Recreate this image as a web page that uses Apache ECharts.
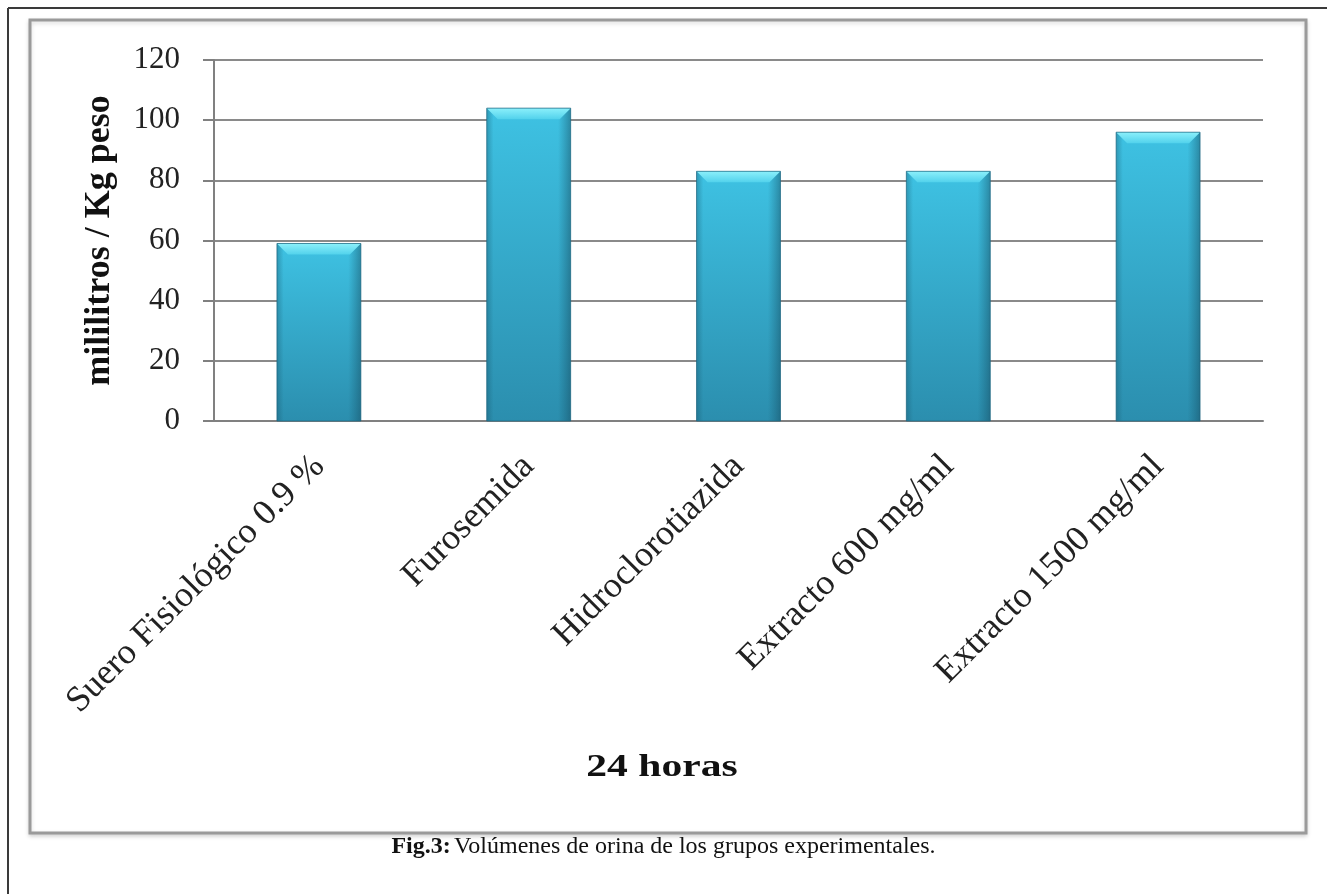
<!DOCTYPE html>
<html>
<head>
<meta charset="utf-8">
<script src="https://cdn.jsdelivr.net/npm/echarts@6/dist/echarts.min.js"></script>
<style>
  html, body { margin: 0; padding: 0; background: #fff; }
  #chart { width: 1327px; height: 894px; }
</style>
</head>
<body>
<div id="chart"></div>
<script>
// Urine volume after 24 h per experimental group (mL / kg body weight)
const categories = [
  'Suero Fisiológico 0.9 %',
  'Furosemida',
  'Hidroclorotiazida',
  'Extracto 600 mg/ml',
  'Extracto 1500 mg/ml'
];
const volumes = [59, 104, 83, 83, 96];
const yTicks = { min: 0, max: 120, interval: 20 };
const yAxisTitle = 'mililitros / Kg peso';
const xAxisTitle = '24 horas';

const serif = '"Liberation Serif", "Times New Roman", serif';
const BAR_RATIO = 0.4;
const BEVEL = 11;

// Bevelled column: gradient body, shaded sides, bright top facet
function renderBevelBar(params, api) {
  const idx = api.value(0);
  const top = api.coord([idx, api.value(1)]);
  const base = api.coord([idx, 0]);
  const w = api.size([1, 0])[0] * BAR_RATIO;
  const l = top[0] - w / 2, r = top[0] + w / 2;
  const t = top[1], b = base[1];
  const bv = Math.min(BEVEL, (b - t) / 2);
  return {
    type: 'group',
    children: [
      { type: 'rect', shape: { x: l, y: t, width: w, height: b - t },
        style: { fill: new echarts.graphic.LinearGradient(0, 0, 0, 1, [
          { offset: 0, color: '#3ec2e3' }, { offset: 1, color: '#2b8eae' }]) } },
      { type: 'rect', shape: { x: l, y: t, width: w, height: b - t },
        style: { fill: new echarts.graphic.LinearGradient(0, 0, 1, 0, [
          { offset: 0, color: 'rgba(20,80,100,0.35)' },
          { offset: 0.08, color: 'rgba(20,80,100,0.0)' },
          { offset: 0.85, color: 'rgba(20,80,100,0.0)' },
          { offset: 1, color: 'rgba(20,70,90,0.45)' }]) } },
      { type: 'polygon', shape: { points: [[l, t], [r, t], [r - bv, t + bv], [l + bv, t + bv]] },
        style: { fill: new echarts.graphic.LinearGradient(0, 0, 0, 1, [
          { offset: 0, color: '#8cf0fb' }, { offset: 1, color: '#52d2ec' }]) } },
      { type: 'rect', shape: { x: l, y: t, width: w, height: b - t },
        style: { fill: 'none', stroke: 'rgba(30,100,125,0.7)', lineWidth: 1 } }
    ]
  };
}

const chart = echarts.init(document.getElementById('chart'), null, { renderer: 'canvas' });
chart.setOption({
  animation: false,
  backgroundColor: '#ffffff',
  graphic: [
    // page frame lines
    { type: 'line', shape: { x1: 8, y1: 8, x2: 1327, y2: 8 }, style: { stroke: '#3a3a3a', lineWidth: 2 }, z: 0 },
    { type: 'line', shape: { x1: 8, y1: 8, x2: 8, y2: 894 }, style: { stroke: '#3a3a3a', lineWidth: 2 }, z: 0 },
    // chart area box
    { type: 'rect', shape: { x: 30, y: 20, width: 1276, height: 813 },
      style: { fill: '#ffffff', stroke: '#9a9a9a', lineWidth: 3,
               shadowBlur: 4, shadowColor: 'rgba(0,0,0,0.15)', shadowOffsetY: 2 }, z: -1 },
    // caption
    { type: 'text', left: 'center', top: 835,
      style: {
        rich: {
          b: { fontFamily: serif, fontSize: 24, fontWeight: 'bold', fill: '#111' },
          n: { fontFamily: serif, fontSize: 24, fill: '#111' }
        },
        text: '{b|Fig.3:} {n|Volúmenes de orina de los grupos experimentales.}'
      }, z: 5 },
    // x axis title
    { type: 'text', x: 662, y: 768, scaleX: 1.3, originX: 0, originY: 0, style: {
        text: xAxisTitle, fontFamily: serif, fontSize: 32, fontWeight: 'bold',
        fill: '#111', align: 'center', verticalAlign: 'middle' }, z: 5 }
  ],
  grid: { left: 214, right: 64, top: 60, bottom: 473, containLabel: false },
  xAxis: {
    type: 'category',
    data: categories,
    axisLine: { show: true, lineStyle: { color: '#808080', width: 2 } },
    axisTick: { show: false },
    axisLabel: {
      rotate: 45, margin: 40, interval: 0,
      fontFamily: serif, fontSize: 36, color: '#222'
    }
  },
  yAxis: {
    type: 'value',
    min: yTicks.min, max: yTicks.max, interval: yTicks.interval,
    name: yAxisTitle,
    nameLocation: 'middle',
    nameGap: 96,
    nameRotate: 90,
    nameTextStyle: { fontFamily: serif, fontSize: 36, fontWeight: 'bold', color: '#111' },
    axisLine: { show: true, lineStyle: { color: '#808080', width: 2 } },
    axisTick: { show: true, inside: false, length: 11, lineStyle: { color: '#808080', width: 2 } },
    axisLabel: { margin: 34, fontFamily: serif, fontSize: 31, color: '#222' },
    splitLine: { show: true, lineStyle: { color: '#8a8a8a', width: 2 } }
  },
  series: [{
    type: 'custom',
    renderItem: renderBevelBar,
    encode: { x: 0, y: 1 },
    data: volumes.map((v, i) => [i, v]),
    z: 3
  }]
});
</script>
</body>
</html>
